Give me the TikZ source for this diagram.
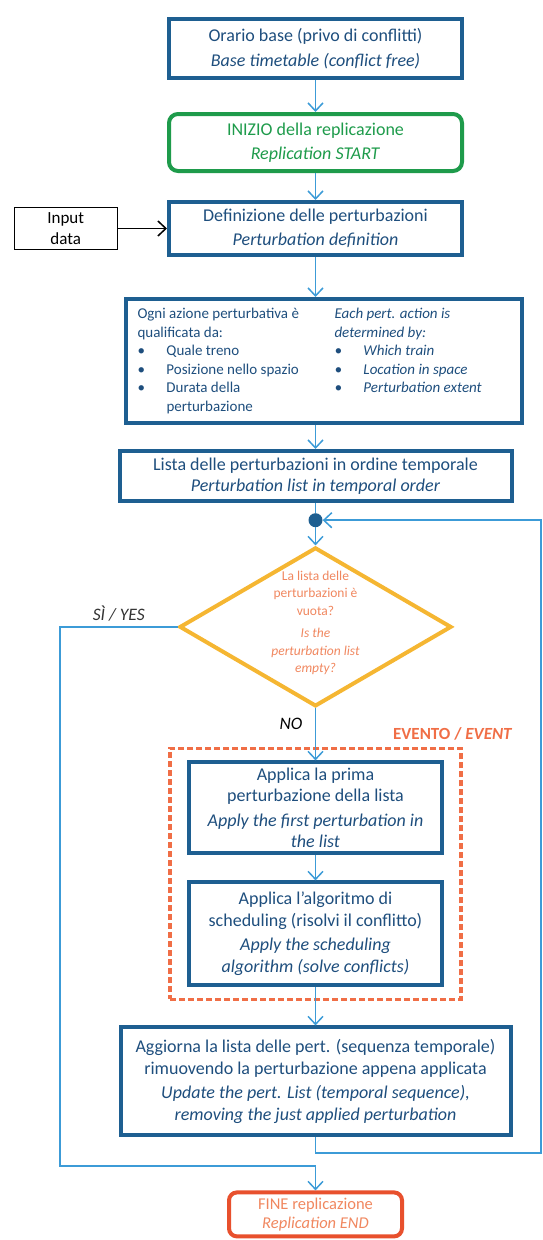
\documentclass[tikz,border=0pt]{standalone}
\usepackage{fontspec}
\setmainfont{Carlito}
\usetikzlibrary{arrows.meta,positioning,shapes.geometric,fit}

\definecolor{boxblue}{RGB}{30,95,145}
\definecolor{txtblue}{RGB}{30,78,125}
\definecolor{arrowblue}{RGB}{60,155,215}
\definecolor{startgreen}{RGB}{30,155,75}
\definecolor{decyellow}{RGB}{245,182,50}
\definecolor{dectext}{RGB}{240,135,95}
\definecolor{evorange}{RGB}{240,110,70}
\definecolor{endred}{RGB}{232,80,45}

\newcommand{\pitem}{\makebox[29pt][l]{\textbullet}}

\begin{document}
\begin{tikzpicture}[x=1pt,y=1pt,>={Straight Barb[length=8pt,width=15pt]},
bluebox/.style={draw=boxblue, line width=4pt, text=txtblue, align=center, inner sep=2pt, font=\fontsize{18}{21.5}\selectfont},
startbox/.style={bluebox, draw=startgreen, text=startgreen, rounded corners=9pt},
inbox/.style={draw=black, line width=1.5pt, align=center, inner sep=2pt, font=\fontsize{17}{21}\selectfont},
decision/.style={diamond, draw=decyellow, line width=4pt, inner sep=0pt},
endbox/.style={bluebox, draw=endred, text=dectext, rounded corners=8pt, font=\fontsize{16.5}{19}\selectfont},
flow/.style={->, draw=arrowblue, line width=1.5pt},
]
\useasboundingbox (0,0) rectangle (543,-1240);

\node[bluebox, minimum width=293pt, minimum height=59pt] (orario) at (315.5,-48.5)
  {Orario base (privo di conflitti)\\[3pt] \textit{Base timetable (conflict free)}};
\node[startbox, minimum width=293pt, minimum height=57pt] (inizio) [below=32pt of orario]
  {INIZIO della replicazione\\[3pt] \textit{Replication START}};
\node[bluebox, minimum width=293pt, minimum height=53pt] (defin) [below=27pt of inizio]
  {Definizione delle perturbazioni\\[3pt] \textit{Perturbation definition}};
\node[inbox, minimum width=103pt, minimum height=42pt] (input) [left=49pt of defin]
  {Input\\data};

\node[bluebox, minimum width=396pt, minimum height=124pt, align=left,
  font=\fontsize{15}{18.5}\selectfont] (ogni) [below=40pt of defin, xshift=8pt]
  {\parbox[t]{197pt}{Ogni azione perturbativa è\\ qualificata da:\\
   \pitem Quale treno\\ \pitem Posizione nello spazio\\ \pitem Durata della\\
   \hspace*{29pt}perturbazione}%
   \parbox[t]{175pt}{\itshape Each pert. action is\\ determined by:\\
   \pitem Which train\\ \pitem Location in space\\ \pitem Perturbation extent}};
\node[bluebox, minimum width=392pt, minimum height=50pt] (lista) [below=24pt of ogni, xshift=-8pt]
  {Lista delle perturbazioni in ordine temporale\\ \textit{Perturbation list in temporal order}};

\node[circle, fill=boxblue, minimum size=14pt, inner sep=0pt] (junc) [below=10pt of lista] {};
\node[decision, minimum width=272pt, minimum height=159pt] (dec) [below=18pt of junc] {};
\node[text=dectext, align=center, font=\fontsize{13.5}{17.5}\selectfont] (qtext) at ([yshift=4pt]dec.center)
  {La lista delle\\ perturbazioni è\\ vuota?\\[5pt] \textit{Is the}\\ \textit{perturbation list}\\ \textit{empty?}};

\node[bluebox, minimum width=253pt, minimum height=91pt] (apply1) [below=52pt of dec]
  {Applica la prima\\ perturbazione della lista\\[3pt] \textit{Apply the first perturbation in}\\ \textit{the list}};
\node[bluebox, minimum width=253pt, minimum height=103pt] (apply2) [below=25pt of apply1]
  {Applica l’algoritmo di\\ scheduling (risolvi il conflitto)\\[3pt] \textit{Apply the scheduling}\\ \textit{algorithm (solve conflicts)}};
\node[draw=evorange, line width=3.5pt, dash pattern=on 6pt off 3pt, inner xsep=17pt, inner ysep=12pt,
  fit=(apply1) (apply2)] (evbox) {};
\node[text=evorange, font=\fontsize{17}{20}\selectfont\bfseries] (evlbl) [above=3pt of evbox.north east, xshift=-10pt]
  {EVENTO / \textit{EVENT}};

\node[bluebox, minimum width=390pt, minimum height=108pt] (aggiorna) [below=38pt of apply2]
  {Aggiorna la lista delle pert. (sequenza temporale)\\ rimuovendo la perturbazione appena applicata\\[3pt]
   \textit{Update the pert. List (temporal sequence),}\\ \textit{removing the just applied perturbation}};
\node[endbox, minimum width=173pt, minimum height=44pt] (fine) [below=53pt of aggiorna]
  {FINE replicazione\\ \textit{Replication END}};

\coordinate (lbend) at (60,-1166);
\coordinate (rbend) at (541,-1153);

\draw[flow] (orario) -- (inizio);
\draw[flow] (inizio) -- (defin);
\draw[->, line width=1.5pt] (input) -- (defin);
\draw[flow] (defin.south) -- (defin.south |- ogni.north);
\draw[flow] (ogni.south -| lista.north) -- (lista.north);
\draw[arrowblue, line width=1.5pt] (lista) -- (junc);
\draw[flow] (junc) -- (dec);
\draw[flow] (dec) -- (apply1) node[pos=0.29, left=9pt, font=\fontsize{17.5}{20}\selectfont\itshape] {NO};
\draw[flow] (apply1) -- (apply2);
\draw[flow] (apply2) -- (aggiorna);
\draw[flow] (dec.west) -- (dec.west -| lbend)
  node[midway, above=2pt, font=\fontsize{17.5}{20}\selectfont\itshape, text=black!80] {SÌ / YES}
  -- (lbend) -- (lbend -| fine.north) -- (fine.north);
% ritorno al nodo
\draw[flow] (aggiorna.south) -- (aggiorna.south |- rbend) -- (rbend) -- (rbend |- junc) -- (junc.east);

\end{tikzpicture}
\end{document}
